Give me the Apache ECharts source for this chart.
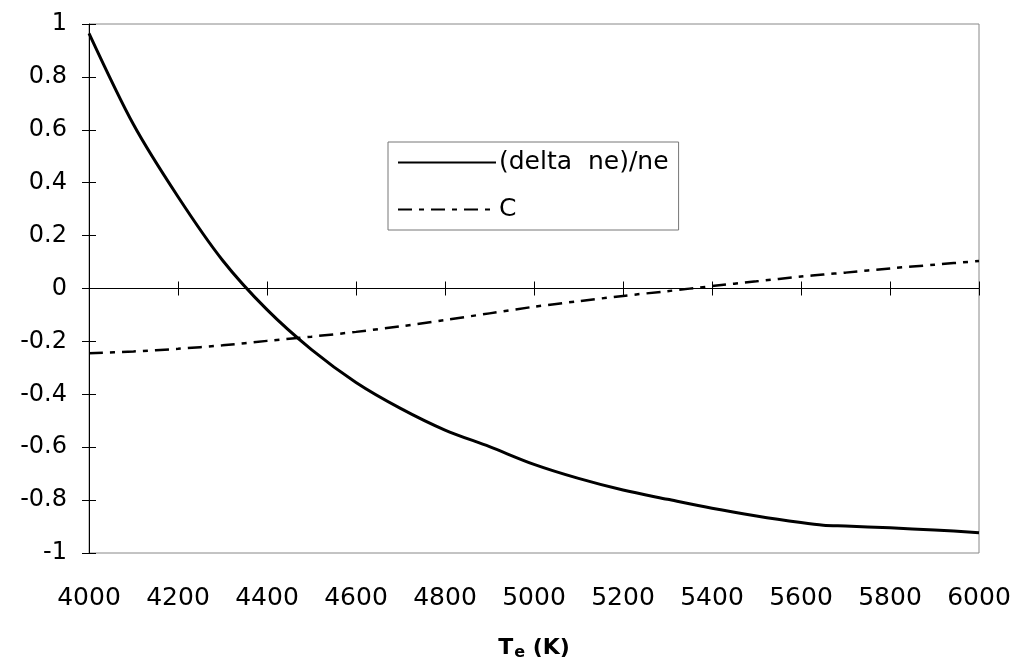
<!DOCTYPE html>
<html><head><meta charset="utf-8">
<script src="https://cdn.jsdelivr.net/npm/echarts@6/dist/echarts.min.js"></script>
<style>html,body{margin:0;padding:0;background:#fff}#c{width:1023px;height:670px}</style>
</head><body><div id="c"></div>
<script>
const temps = [4000,4100,4200,4300,4400,4500,4600,4700,4800,4900,5000,5100,5200,5300,5400,5500,5600,5650,5700,5800,5900,6000];
const deltaNe = [0.965,0.62,0.347,0.107,-0.08,-0.231,-0.355,-0.453,-0.535,-0.598,-0.665,-0.718,-0.762,-0.797,-0.831,-0.86,-0.885,-0.895,-0.898,-0.905,-0.913,-0.923];
const cVals = [-0.245,-0.238,-0.228,-0.215,-0.198,-0.182,-0.164,-0.143,-0.119,-0.094,-0.069,-0.048,-0.028,-0.01,0.009,0.027,0.045,0.053,0.06,0.076,0.09,0.104];
const seriesNames = ['(delta  ne)/ne', 'C'];

const font = 'DejaVu Sans';
const chart = echarts.init(document.getElementById('c'));
const xBase = {type:'value', min:4000, max:6000, interval:200, position:'bottom'};
const yBase = {type:'value', min:-1, max:1, interval:0.2, position:'left'};
chart.setOption({
  animation:false,
  backgroundColor:'#fff',
  grid:{left:89, right:44, top:24, bottom:117, show:true, borderColor:'#888', borderWidth:1},
  legend:{
    orient:'vertical', left:388, top:142, width:298,
    padding:[8,10,8,9], itemGap:22, itemWidth:98, itemHeight:24,
    borderColor:'#777', borderWidth:1,
    itemStyle:{opacity:0},
    textStyle:{fontFamily:font, fontSize:25, color:'#000', padding:[0,0,0,-2]},
    data:seriesNames
  },
  xAxis:[
    Object.assign({}, xBase, {
      axisLine:{lineStyle:{color:'#000', width:1}},
      axisTick:{inside:false, length:7, lineStyle:{color:'#000'}},
      axisLabel:{fontFamily:font, fontSize:25, color:'#000', margin:33, formatter:(v)=>String(v)},
      splitLine:{show:false},
      name:'{b|T}{s|e}{b| (K)}', nameLocation:'middle', nameGap:82,
      nameTextStyle:{rich:{
        b:{fontFamily:font, fontWeight:'bold', fontSize:22, color:'#000'},
        s:{fontFamily:font, fontWeight:'bold', fontSize:16, color:'#000', verticalAlign:'bottom', padding:[10,0,0,1]}
      }}
    }),
    Object.assign({}, xBase, {
      axisLine:{show:false},
      axisTick:{inside:true, length:7, lineStyle:{color:'#000'}},
      axisLabel:{show:false}, splitLine:{show:false}
    })
  ],
  yAxis:[
    Object.assign({}, yBase, {
      axisLine:{show:true, lineStyle:{color:'#000', width:1}},
      axisTick:{show:true, inside:false, length:7, lineStyle:{color:'#000'}},
      axisLabel:{fontFamily:font, fontSize:24, color:'#000', margin:22},
      splitLine:{show:false}
    }),
    Object.assign({}, yBase, {
      axisLine:{show:false},
      axisTick:{show:true, inside:true, length:7, lineStyle:{color:'#000'}},
      axisLabel:{show:false}, splitLine:{show:false}
    })
  ],
  series:[
    {name:seriesNames[0], type:'line', symbol:'none', smooth:0.3,
     data:temps.map((t,i)=>[t,deltaNe[i]]),
     lineStyle:{color:'#000', width:3, type:'solid'}, itemStyle:{color:'#000'}},
    {name:seriesNames[1], type:'line', symbol:'none', smooth:0.3,
     data:temps.map((t,i)=>[t,cVals[i]]),
     lineStyle:{color:'#000', width:2.5, type:[14,7,5,7]}, itemStyle:{color:'#000'}}
  ]
});
</script></body></html>
